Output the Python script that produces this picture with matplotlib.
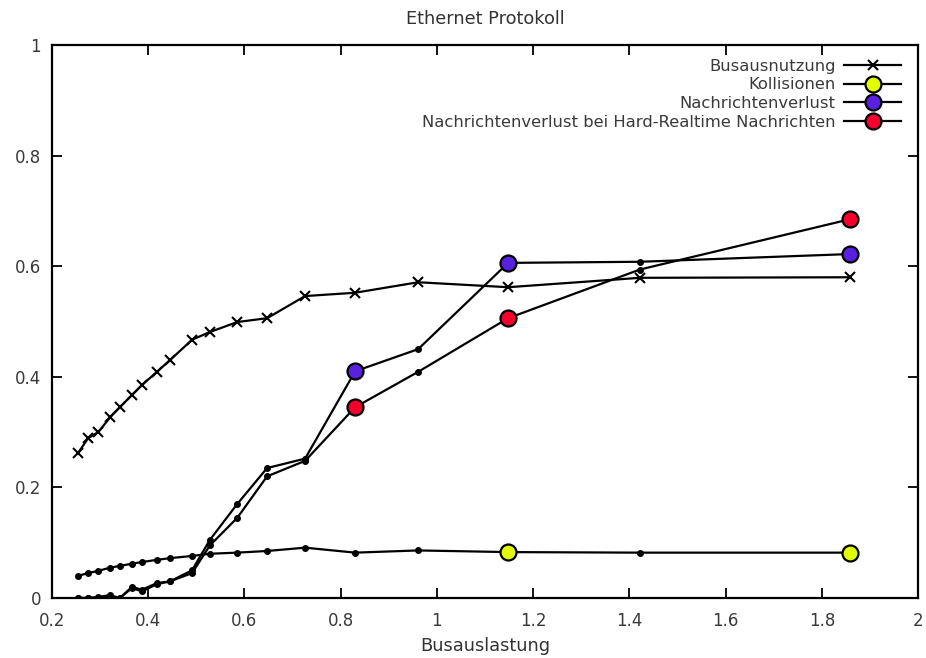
import matplotlib
matplotlib.use("Agg")
import matplotlib.pyplot as plt
from matplotlib.ticker import FuncFormatter

plt.rcParams['font.family'] = ['DejaVu Sans']

busauslastung = [0.254, 0.275, 0.296, 0.321, 0.341, 0.366, 0.387, 0.418, 0.445, 0.491,
                 0.528, 0.585, 0.647, 0.726, 0.830, 0.961, 1.148, 1.422, 1.859]
busausnutzung = [0.262, 0.289, 0.300, 0.327, 0.345, 0.367, 0.385, 0.409, 0.430, 0.467,
                 0.481, 0.499, 0.506, 0.546, 0.552, 0.571, 0.562, 0.579, 0.580]
kollisionen = [0.040, 0.045, 0.049, 0.055, 0.058, 0.062, 0.065, 0.069, 0.072, 0.076,
               0.080, 0.082, 0.085, 0.091, 0.082, 0.086, 0.083, 0.082, 0.082]
verlust = [0.0, 0.0, 0.002, 0.005, 0.0, 0.020, 0.015, 0.027, 0.030, 0.050,
           0.105, 0.170, 0.235, 0.252, 0.410, 0.450, 0.606, 0.608, 0.622]
verlust_hrt = [0.0, 0.0, 0.0, 0.003, 0.0, 0.018, 0.012, 0.025, 0.030, 0.045,
               0.095, 0.145, 0.220, 0.248, 0.345, 0.409, 0.506, 0.594, 0.685]

kollision_marks = [16, 18]
verlust_marks = [14, 16, 18]

fig = plt.figure(figsize=(9.26, 6.58), dpi=100)
ax = fig.add_axes([0.0562, 0.0912, 0.9352, 0.8404])

lw = 1.6
ax.plot(busauslastung, busausnutzung, color='black', lw=lw, marker='x', ms=7, mew=1.5,
        label='Busausnutzung')

def small(y, m):
    others = [i for i in range(len(busauslastung)) if i not in m]
    ax.plot(busauslastung, y, color='black', lw=0, marker='o', ms=4, markevery=others)

small(kollisionen, kollision_marks)
small(verlust, verlust_marks)
small(verlust_hrt, verlust_marks)

ax.plot(busauslastung, kollisionen, color='black', lw=lw, marker='o', ms=11.5, mfc='#e2ff00',
        mec='black', mew=1.6, markevery=kollision_marks, label='Kollisionen')
ax.plot(busauslastung, verlust, color='black', lw=lw, marker='o', ms=11.5, mfc='#5a20e0',
        mec='black', mew=1.6, markevery=verlust_marks, label='Nachrichtenverlust')
ax.plot(busauslastung, verlust_hrt, color='black', lw=lw, marker='o', ms=11.5, mfc='#f5002d',
        mec='black', mew=1.6, markevery=verlust_marks,
        label='Nachrichtenverlust bei Hard-Realtime Nachrichten')

ax.set_xlim(0.2, 2.0)
ax.set_ylim(0, 1)
ax.set_xticks([0.2, 0.4, 0.6, 0.8, 1.0, 1.2, 1.4, 1.6, 1.8, 2.0])
ax.set_yticks([0, 0.2, 0.4, 0.6, 0.8, 1.0])
fmt = FuncFormatter(lambda v, p: ('%g' % round(v, 2)))
ax.xaxis.set_major_formatter(fmt)
ax.yaxis.set_major_formatter(fmt)
ax.tick_params(direction='in', length=7, width=1.3, top=True, right=True,
               labelsize=12, colors='black')
ax.tick_params(axis='x', pad=10)
ax.tick_params(axis='y', pad=8)
ax.tick_params(axis='both', labelcolor='#3a3a3a')
for s in ax.spines.values():
    s.set_linewidth(1.6)

ax.set_title('Ethernet Protokoll', fontsize=12.8, color='#333333', pad=15)
ax.set_xlabel('Busauslastung', fontsize=12.8, color='#333333', labelpad=5)

leg = ax.legend(loc='upper right', bbox_to_anchor=(0.994, 0.996), frameon=False,
                markerfirst=False, fontsize=11.8, handlelength=3.5, labelspacing=0.22,
                borderaxespad=0.3, handletextpad=0.5)
for t in leg.get_texts():
    t.set_color('#3a3a3a')

fig.savefig('out.png', dpi=100)
